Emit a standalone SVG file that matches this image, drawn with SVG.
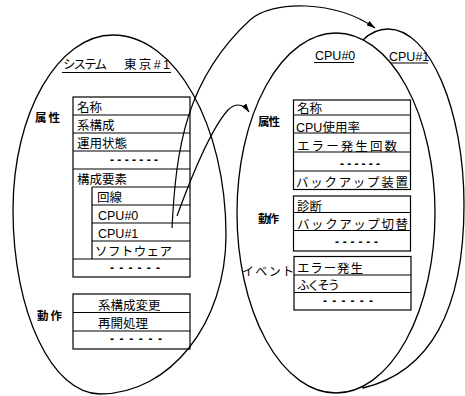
<svg xmlns="http://www.w3.org/2000/svg" width="465" height="396" viewBox="0 0 465 396">
<style>
.ln{stroke:#000;stroke-width:1.2;fill:none}
.sh{stroke:#000;stroke-width:1.3;fill:#fff}
.t{font-family:"Liberation Sans","Noto Sans CJK JP",sans-serif;font-size:12.5px;fill:#000}
.lb{font-family:"Liberation Sans","Noto Sans CJK JP",sans-serif;font-size:11.5px;font-weight:bold;fill:#000}
.ev{font-family:"Liberation Sans","Noto Sans CJK JP",sans-serif;font-size:12px;fill:#000}
.d{font-family:"Liberation Sans",sans-serif;font-size:12px;font-weight:bold;fill:#000}
.c{stroke:#000;stroke-width:1.2;fill:none}
</style>
<defs>
<marker id="ah" viewBox="0 0 10 6" refX="9.5" refY="3" markerWidth="9" markerHeight="5.4" orient="auto" markerUnits="userSpaceOnUse">
<path d="M0,0 L10,3 L0,6 Z" fill="#000"/>
</marker>
</defs>
<rect width="465" height="396" fill="#fff"/>

<g id="system-tokyo1">
<path class="sh" d="M113,35 C175,35 226,125 226,235 C226,323 170,394 100,394 C52,394 13,312 13,210 C13,113 58,35 113,35 Z"/>
<text class="t" y="69"><tspan x="63" textLength="44" lengthAdjust="spacing">システム</tspan><tspan x="124" textLength="46" lengthAdjust="spacing">東京#1</tspan></text>
<line class="ln" x1="62" y1="72.5" x2="171" y2="72.5"/>
<text class="lb" x="35" y="122" textLength="25" lengthAdjust="spacing">属性</text>
<rect class="ln" x="73" y="97" width="117" height="180"/>
<path class="ln" d="M73,115H190M73,133H190M73,151H190M73,169H190M92,187H190M92,205H190M92,223H190M92,241H190M73,259H190M92,187V259"/>
<text class="t" x="77" y="112">名称</text>
<text class="t" x="77" y="130">系構成</text>
<text class="t" x="77" y="148">運用状態</text>
<text class="d" x="110" y="163.5" textLength="48" lengthAdjust="spacing">-------</text>
<text class="t" x="77" y="184">構成要素</text>
<text class="t" x="97" y="202">回線</text>
<text class="t" x="98" y="220">CPU#0</text>
<text class="t" x="98" y="238">CPU#1</text>
<text class="t" x="95" y="256" textLength="77" lengthAdjust="spacing">ソフトウェア</text>
<text class="d" x="110" y="272" textLength="50" lengthAdjust="spacing">------</text>
<text class="lb" x="37" y="320" textLength="25" lengthAdjust="spacing">動作</text>
<rect class="ln" x="73" y="294" width="117" height="55"/>
<path class="ln" d="M73,312.5H190M73,331H190"/>
<text class="t" x="98" y="309.5">系構成変更</text>
<text class="t" x="98" y="327.5">再開処理</text>
<text class="d" x="110" y="343" textLength="52" lengthAdjust="spacing">------</text>
</g>

<g id="cpu1">
<path class="sh" d="M363,40 C370,33 378,29 388,29 C430,29 464,110 464,205 C464,310 430,372 363,388 Z"/>
<text class="t" x="389" y="60.5">CPU#1</text>
<line class="ln" x1="388" y1="63" x2="428" y2="63"/>
</g>

<g id="cpu0">
<ellipse class="sh" cx="336" cy="213" rx="99" ry="180"/>
<text class="t" x="315" y="60">CPU#0</text>
<line class="ln" x1="314" y1="62.5" x2="354" y2="62.5"/>
<text class="lb" x="258" y="126" textLength="22" lengthAdjust="spacing">属性</text>
<rect class="ln" x="293.5" y="100" width="117" height="89.5"/>
<path class="ln" d="M293.5,115H410.5M293.5,133H410.5M293.5,152H410.5M293.5,171H410.5"/>
<text class="t" x="297" y="113">名称</text>
<text class="t" x="296" y="131.5">CPU使用率</text>
<text class="t" x="297" y="150.5" textLength="100" lengthAdjust="spacing">エラー発生回数</text>
<text class="d" x="340" y="167.5" textLength="40" lengthAdjust="spacing">------</text>
<text class="t" x="296" y="186.5" textLength="112" lengthAdjust="spacing">バックアップ装置</text>
<text class="lb" x="258" y="223" textLength="21" lengthAdjust="spacing">動作</text>
<rect class="ln" x="293.5" y="196" width="117" height="55"/>
<path class="ln" d="M293.5,212.5H410.5M293.5,230.5H410.5"/>
<text class="t" x="297" y="210.5">診断</text>
<text class="t" x="297" y="228.5" textLength="111" lengthAdjust="spacing">バックアップ切替</text>
<text class="d" x="335" y="245.5" textLength="43" lengthAdjust="spacing">------</text>
<text class="ev" x="242" y="276" textLength="52" lengthAdjust="spacing">イベント</text>
<rect class="ln" x="294" y="256.5" width="117" height="53.5"/>
<path class="ln" d="M294,275H411M294,292.5H411"/>
<text class="t" x="297" y="272.5" textLength="66" lengthAdjust="spacing">エラー発生</text>
<text class="t" x="297" y="289.5" textLength="43" lengthAdjust="spacing">ふくそう</text>
<text class="d" x="323" y="304.5" textLength="50" lengthAdjust="spacing">------</text>
</g>

<g id="connectors">
<path class="c" d="M172,228 C176,150 185,80 250,20 C272,0 335,0 375,28" marker-end="url(#ah)"/>
<path class="c" d="M177,216 C192,175 210,130 228,110 C234,104 242,102 249,112" marker-end="url(#ah)"/>
</g>
</svg>
